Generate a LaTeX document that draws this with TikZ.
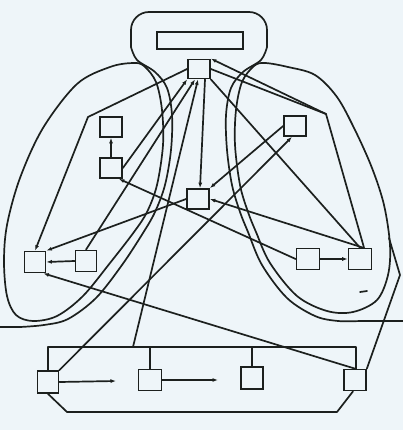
\documentclass[tikz,border=0pt]{standalone}
\usetikzlibrary{arrows.meta}
\definecolor{bg}{RGB}{238,245,249}
\definecolor{ink}{RGB}{28,32,30}
\begin{document}
\begin{tikzpicture}[x=1pt,y=-1pt,
  ln/.style={line width=1.7pt, draw=ink, line join=round, line cap=round},
  arr/.style={ln, -{Latex[length=5.5pt,width=4pt]}},
  box/.style={draw=ink, line width=1.7pt, fill=bg, minimum width=22pt, minimum height=20pt, inner sep=0pt}]
\fill[bg] (0,0) rectangle (403,430);
\useasboundingbox (0,0) rectangle (403,430);

% housing
\draw[ln, rounded corners=18pt] (131,47) -- (131,12) -- (267,12) -- (267,47);
% left feeder (housing side to ground line)
\draw[ln] (0,327) -- plot[smooth, tension=0.55] coordinates {(20,327) (44,325) (68,319) (96,298) (122,265) (143,233) (155,212) (165,185) (171,150) (172,115) (167,88) (155,72) (137,60) (131,47)};
% right feeder
\draw[ln] (403,321) -- plot[smooth, tension=0.55] coordinates {(360,321) (338,321) (315,316) (287,298) (262,265) (248,232) (240,212) (232,185) (227,150) (226,115) (231,88) (243,72) (261,60) (267,47)};
% left loop
\draw[ln] plot[smooth cycle, tension=0.55] coordinates {(144,66) (156,82) (162,110) (163,145) (157,185) (147,212) (134,232) (110,263) (83,296) (57,316) (33,321) (16,315) (7,296) (4,262) (7,225) (20,178) (43,128) (77,84) (110,67) (133,63)};
% right loop
\draw[ln] plot[smooth cycle, tension=0.55] coordinates {(254,66) (242,82) (236,110) (235,145) (240,185) (248,212) (256,232) (270,263) (297,296) (327,311) (353,312) (377,300) (388,275) (390,245) (384,205) (372,168) (355,130) (337,97) (315,75) (288,67) (265,63)};
\coordinate (br) at (389,238);
\coordinate (bk) at (400,275);
\draw[ln] (360,292) -- (367,291);

% nodes
\node[draw=ink, line width=1.7pt, minimum width=86pt, minimum height=17pt, inner sep=0pt] (T) at (200,40.5) {};
\node[box, minimum height=19pt] (H) at (199,69) {};
\node[box] (L1) at (111,127) {};
\node[box] (L2) at (111,168) {};
\node[box] (C) at (198,199) {};
\node[box] (R1) at (295,126) {};
\node[box, minimum width=21pt, minimum height=21pt] (LB1) at (35,262) {};
\node[box, minimum width=21pt, minimum height=21pt] (LB2) at (86,261) {};
\node[box, minimum width=23pt, minimum height=21pt] (RB1) at (308,259) {};
\node[box, minimum width=23pt, minimum height=21pt] (RB2) at (360,259) {};
\node[box, minimum width=21pt, minimum height=22pt] (B1) at (48,382) {};
\node[box, minimum width=23pt, minimum height=21pt] (B2) at (150,380) {};
\node[box, minimum width=22pt, minimum height=22pt] (B3) at (252,378) {};
\node[box, minimum width=22pt, minimum height=21pt] (B4) at (355,380) {};

% bus and bottom frame
\coordinate (bl) at (48,347);
\coordinate (bm) at (133,347);
\coordinate (b2) at (150,347);
\coordinate (b3) at (252,347);
\coordinate (brr) at (356,347);
\draw[ln] (B1.north) -- (bl) -- (brr) -- (B4.north -| brr);
\draw[ln] (b2) -- (B2.north);
\draw[ln] (b3) -- (B3.north);
\coordinate (f1) at (67,412);
\coordinate (f2) at (337,412);
\draw[ln] (B1.south) -- (f1) -- (f2) -- ([xshift=-2pt]B4.south);
\coordinate (e1) at (116,381);
\coordinate (e2) at (218,380);
\draw[arr] (B1.east) -- (e1);
\draw[arr] (B2.east) -- (e2);

% right branch to B4
\draw[ln] (br) -- (bk) -- (B4.north east);

% short arrows
\draw[arr] (L2.north) -- (L1.south);
\draw[arr] (LB2.west) -- (LB1.east);
\draw[arr] (RB1.east) -- (RB2.west);

% hub connections
\coordinate (hl) at (88,117);
\draw[arr] (H.west) -- (hl) -- (LB1.north);
\draw[arr] (L2.east) -- (H.south west);
\draw[arr] (LB2.north) -- ([xshift=-4pt]H.south);
\draw[arr] (bm) -- ([xshift=-1pt]H.south);
\draw[arr] ([xshift=6pt]H.south) -- ([xshift=2pt]C.north);
\coordinate (bend) at (326,114);
\draw[arr] ([xshift=4pt]RB2.north) -- (bend) -- (H.north east);
\draw[ln] (bend) -- (H.east);
\draw[ln] (H.south east) -- (RB2.north);

% other connections
\draw[arr] (C.west) -- (LB1.north east);
\draw[arr] (RB1.west) -- ([xshift=-4pt]L2.south east);
\draw[arr] (B4.north) -- ([xshift=-3pt]LB1.south east);
\draw[arr] (B1.north east) -- ([xshift=-3pt]R1.south);
\draw[arr] (R1.west) -- (C.north east);
\draw[arr] ([xshift=3pt]RB2.north) -- (C.east);
\end{tikzpicture}
\end{document}
